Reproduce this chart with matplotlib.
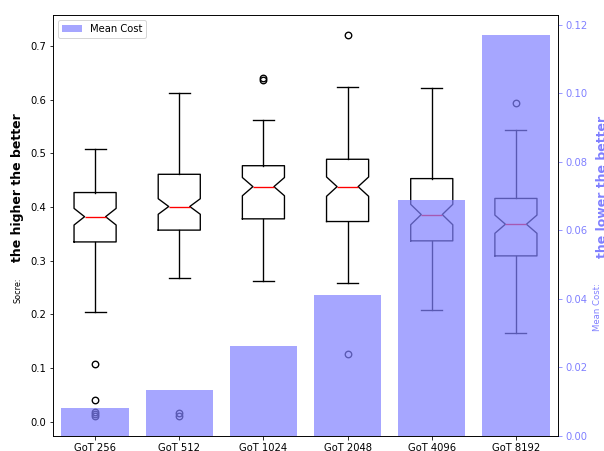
import matplotlib
matplotlib.use("Agg")
import matplotlib.pyplot as plt

# data
labels = ["GoT 256", "GoT 512", "GoT 1024", "GoT 2048", "GoT 4096", "GoT 8192"]
whislo = [0.204, 0.267, 0.263, 0.258, 0.208, 0.165]
q1 = [0.335, 0.357, 0.378, 0.373, 0.337, 0.309]
med = [0.382, 0.401, 0.438, 0.438, 0.386, 0.368]
q3 = [0.427, 0.461, 0.477, 0.489, 0.453, 0.416]
whishi = [0.509, 0.613, 0.562, 0.624, 0.621, 0.544]
notch = [0.0155, 0.0145, 0.017, 0.018, 0.019, 0.017]
fliers = [
    [0.107, 0.041, 0.018, 0.014, 0.010],
    [0.016, 0.010],
    [0.640, 0.636],
    [0.720, 0.1255],
    [],
    [0.593],
]
mean_cost = [0.0081, 0.0133, 0.0263, 0.0412, 0.069, 0.117]

stats = []
for i in range(len(labels)):
    stats.append(dict(med=med[i], q1=q1[i], q3=q3[i], whislo=whislo[i],
                      whishi=whishi[i], fliers=fliers[i],
                      cilo=med[i] - notch[i], cihi=med[i] + notch[i]))

fig = plt.figure(figsize=(604 / 72, 451 / 72), dpi=72)
ax = fig.add_axes([53 / 604, 15 / 451, 505 / 604, 421 / 451])

pos = list(range(1, len(labels) + 1))
lw = 1.35
ax.bxp(stats, positions=pos, widths=0.5, shownotches=True,
       boxprops=dict(linewidth=lw), whiskerprops=dict(linewidth=lw),
       capprops=dict(linewidth=lw),
       flierprops=dict(marker="o", markersize=6.5, markeredgewidth=lw),
       medianprops=dict(color="red", linewidth=lw))
ax.set_ylim(-0.0266, 0.7578)
ax.set_xlim(0.5, 6.5)

ax2 = ax.twinx()
ax2.bar(pos, mean_cost, width=0.8, color=(0.5, 0.5, 1.0), alpha=0.7,
        label="Mean Cost")
ax2.set_ylim(0, 0.1229)
ax2.tick_params(axis="y", colors="#8080ff")
ax2.legend(loc="upper left")
ax.set_xticks(pos)
ax.set_xticklabels(labels)

fig.text(0.029, 0.357, "Socre:", rotation=90, ha="center", va="center",
         fontsize=8)
fig.text(0.029, 0.585, "the higher the better", rotation=90, ha="center",
         va="center", fontsize=12.5, fontweight="bold")
fig.text(0.990, 0.32, "Mean Cost:", rotation=90, ha="center", va="center",
         fontsize=8.5, color="#8080ff")
fig.text(0.997, 0.585, "the lower the better", rotation=90, ha="center",
         va="center", fontsize=12.5, fontweight="bold", color="#8080ff")

fig.savefig("out.png", dpi=72)
